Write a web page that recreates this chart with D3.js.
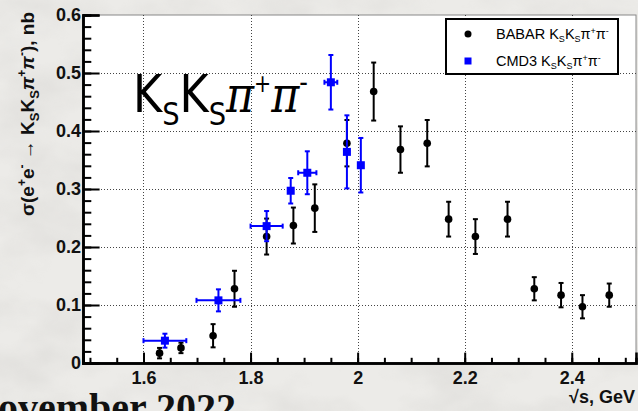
<!DOCTYPE html>
<html>
<head>
<meta charset="utf-8">
<script src="https://cdn.jsdelivr.net/npm/d3@7"></script>
<style>
  html, body { margin: 0; padding: 0; background: #e9e7e4; }
  svg { display: block; }
</style>
</head>
<body>
<div id="chart"></div>
<script>
// BABAR e+e- -> KsKs pi+pi- cross section (nb) vs sqrt(s) (GeV)
const babarX   = [1.63, 1.67, 1.73, 1.77, 1.83, 1.88, 1.92, 1.98, 2.03, 2.08, 2.13, 2.17, 2.22, 2.28, 2.33, 2.38, 2.42, 2.47];
const babarY   = [0.017, 0.026, 0.047, 0.128, 0.218, 0.237, 0.267, 0.379, 0.468, 0.368, 0.379, 0.248, 0.218, 0.248, 0.128, 0.117, 0.097, 0.117];
const babarErr = [0.009, 0.009, 0.020, 0.031, 0.031, 0.031, 0.041, 0.040, 0.050, 0.040, 0.040, 0.030, 0.030, 0.030, 0.020, 0.021, 0.020, 0.020];

// CMD3 measurement, with energy-bin half widths
const cmdX    = [1.640, 1.740, 1.830, 1.875, 1.906, 1.950, 1.980, 2.006];
const cmdXErr = [0.040, 0.041, 0.030, 0.005, 0.017, 0.012, 0.005, 0.005];
const cmdY    = [0.0385, 0.108, 0.236, 0.297, 0.328, 0.484, 0.364, 0.341];
const cmdYErr = [0.012, 0.019, 0.026, 0.022, 0.037, 0.047, 0.063, 0.047];

// Axis ticks
const xMajor = [1.6, 1.8, 2.0, 2.2, 2.4];
const xTickLabels = ["1.6", "1.8", "2", "2.2", "2.4"];
const yMajor = [0, 0.1, 0.2, 0.3, 0.4, 0.5, 0.6];
const yTickLabels = ["0", "0.1", "0.2", "0.3", "0.4", "0.5", "0.6"];

const W = 638, H = 411;
const frame = { left: 83, right: 636, top: 15, bottom: 363 };

const svg = d3.select("#chart").append("svg")
  .attr("width", W).attr("height", H);

// grainy slide background
const defs = svg.append("defs");
const f = defs.append("filter").attr("id", "grain").attr("x", 0).attr("y", 0).attr("width", 1).attr("height", 1);
f.append("feTurbulence").attr("type", "fractalNoise").attr("baseFrequency", "0.012 0.02")
  .attr("numOctaves", 4).attr("seed", 7).attr("result", "n");
f.append("feColorMatrix").attr("type", "matrix")
  .attr("values", "0 0 0 0 0.55  0 0 0 0 0.54  0 0 0 0 0.52  1.4 0 0 0 -0.55");
svg.append("rect").attr("width", W).attr("height", H).attr("fill", "#ecebe8");
svg.append("rect").attr("width", W).attr("height", H).attr("filter", "url(#grain)").attr("opacity", 0.4);

// date line of the slide footer
svg.append("text")
  .attr("x", -31).attr("y", 421)
  .attr("font-family", "'Liberation Serif', 'Times New Roman', serif")
  .attr("font-weight", "bold").attr("font-size", 40).attr("fill", "#111")
  .text("November 2022");

const x = d3.scaleLinear().domain([1.487, 2.52]).range([frame.left, frame.right]);
const y = d3.scaleLinear().domain([0, 0.6]).range([frame.bottom, frame.top]);

// plot area
svg.append("rect")
  .attr("x", frame.left).attr("y", frame.top)
  .attr("width", frame.right - frame.left).attr("height", frame.bottom - frame.top)
  .attr("fill", "#fff").attr("stroke", "#888").attr("stroke-width", 1);

// dotted grid
const grid = svg.append("g").attr("stroke", "#444").attr("stroke-width", 1).attr("stroke-dasharray", "1,2");
grid.selectAll("line.gx").data(xMajor).join("line")
  .attr("x1", d => Math.round(x(d)) + 0.5).attr("x2", d => Math.round(x(d)) + 0.5)
  .attr("y1", frame.top).attr("y2", frame.bottom);
grid.selectAll("line.gy").data(yMajor.filter(v => v > 0 && v < 0.6)).join("line")
  .attr("y1", d => Math.round(y(d)) + 0.5).attr("y2", d => Math.round(y(d)) + 0.5)
  .attr("x1", frame.left).attr("x2", frame.right);

// axes (ticks inward, ROOT-like)
const tickFont = "'Liberation Sans', Arial, Helvetica, sans-serif";
const xMinorTicks = d3.range(1.5, 2.5001, 0.05).map(v => +v.toFixed(2));
const yMinorTicks = d3.range(0, 0.6001, 0.02).map(v => +v.toFixed(2));

const gxMinor = svg.append("g").attr("transform", `translate(0,${frame.bottom})`)
  .call(d3.axisBottom(x).tickValues(xMinorTicks).tickSize(-5.2).tickFormat(""));
const gx = svg.append("g").attr("transform", `translate(0,${frame.bottom})`)
  .call(d3.axisBottom(x).tickValues(xMajor).tickSize(-10.4).tickPadding(8)
    .tickFormat((d, i) => xTickLabels[i]));
const gyMinor = svg.append("g").attr("transform", `translate(${frame.left},0)`)
  .call(d3.axisLeft(y).tickValues(yMinorTicks).tickSize(-8.3).tickFormat(""));
const gy = svg.append("g").attr("transform", `translate(${frame.left},0)`)
  .call(d3.axisLeft(y).tickValues(yMajor).tickSize(-16.6).tickPadding(2)
    .tickFormat((d, i) => yTickLabels[i]));

[gxMinor, gx, gyMinor, gy].forEach(g => {
  g.select(".domain").attr("stroke", "#000").attr("stroke-width", 2.5);
  g.selectAll(".tick line").attr("stroke", "#000").attr("stroke-width", 2);
  g.selectAll("text").attr("font-family", tickFont).attr("font-weight", "bold")
    .attr("font-size", 18).attr("fill", "#111");
});

// axis titles
svg.append("text")
  .attr("x", frame.right - 1).attr("y", 403).attr("text-anchor", "end")
  .attr("font-family", tickFont).attr("font-weight", "bold").attr("font-size", 18).attr("fill", "#111")
  .text("\u221As, GeV");

const yt = svg.append("text")
  .attr("transform", "translate(34,114) rotate(-90)")
  .attr("text-anchor", "middle")
  .attr("font-family", tickFont).attr("font-weight", "bold").attr("font-size", 19).attr("fill", "#111");
const supSub = (el, parts) => {
  parts.forEach(p => {
    const t = el.append("tspan").text(p.t);
    if (p.s) t.attr("font-size", p.s);
    if (p.dy) t.attr("dy", p.dy);
    if (p.st) t.attr("font-style", p.st);
    if (p.ff) t.attr("font-family", p.ff);
  });
};
supSub(yt, [
  { t: "\u03C3(e" }, { t: "+", s: 12, dy: -8 }, { t: "e", dy: 8 }, { t: "-", s: 12, dy: -8 },
  { t: " \u2192 K", dy: 8 }, { t: "S", s: 13, dy: 5 }, { t: "K", dy: -5 }, { t: "S", s: 13, dy: 5 },
  { t: "\u03C0", dy: -5, st: "italic" }, { t: "+", s: 12, dy: -8 }, { t: "\u03C0", dy: 8, st: "italic" },
  { t: "-", s: 12, dy: -8 }, { t: "), nb", dy: 8 }
]);

// big process label
const big = svg.append("g");
const piFont = "'DejaVu Serif', 'Liberation Serif', serif";
const bt = big.append("text").attr("x", 0).attr("y", 0)
  .attr("font-family", "'DejaVu Sans', sans-serif").attr("font-size", 52).attr("fill", "#000");
supSub(bt, [
  { t: "K" }, { t: "S", s: 32, dy: 13 }, { t: "K", dy: -13 }, { t: "S", s: 32, dy: 13 },
  { t: "\u03C0", dy: -13, st: "italic", ff: piFont, s: 50 }, { t: "+", s: 24, dy: -20 },
  { t: "\u03C0", dy: 20, st: "italic", ff: piFont, s: 50 },
  { t: "-", s: 28, dy: -20 }
]);
const bb = bt.node().getBBox();
big.attr("transform", `translate(133,112) scale(${175 / bb.width},1)`);

// BABAR points
const babar = babarX.map((v, i) => ({ x: v, y: babarY[i], e: babarErr[i] }));
const gB = svg.append("g").attr("stroke", "#000").attr("stroke-width", 2);
gB.selectAll("line.ev").data(babar).join("line")
  .attr("x1", d => x(d.x)).attr("x2", d => x(d.x))
  .attr("y1", d => y(d.y - d.e)).attr("y2", d => y(d.y + d.e));
gB.selectAll("line.cap1").data(babar).join("line")
  .attr("x1", d => x(d.x) - 2.5).attr("x2", d => x(d.x) + 2.5)
  .attr("y1", d => y(d.y + d.e)).attr("y2", d => y(d.y + d.e));
gB.selectAll("line.cap2").data(babar).join("line")
  .attr("x1", d => x(d.x) - 2.5).attr("x2", d => x(d.x) + 2.5)
  .attr("y1", d => y(d.y - d.e)).attr("y2", d => y(d.y - d.e));
svg.append("g").selectAll("circle").data(babar).join("circle")
  .attr("cx", d => x(d.x)).attr("cy", d => y(d.y)).attr("r", 3.8).attr("fill", "#000");

// CMD3 points
const cmd = cmdX.map((v, i) => ({ x: v, xe: cmdXErr[i], y: cmdY[i], e: cmdYErr[i] }));
const gC = svg.append("g").attr("stroke", "#0000ff").attr("stroke-width", 2);
gC.selectAll("line.ev").data(cmd).join("line")
  .attr("x1", d => x(d.x)).attr("x2", d => x(d.x))
  .attr("y1", d => y(d.y - d.e)).attr("y2", d => y(d.y + d.e));
gC.selectAll("line.eh").data(cmd).join("line")
  .attr("x1", d => x(d.x - d.xe)).attr("x2", d => x(d.x + d.xe))
  .attr("y1", d => y(d.y)).attr("y2", d => y(d.y));
[1, -1].forEach(s => {
  gC.selectAll(null).data(cmd).join("line")
    .attr("x1", d => x(d.x) - 2.5).attr("x2", d => x(d.x) + 2.5)
    .attr("y1", d => y(d.y + s * d.e)).attr("y2", d => y(d.y + s * d.e));
  gC.selectAll(null).data(cmd.filter(d => d.xe > 0.01)).join("line")
    .attr("x1", d => x(d.x + s * d.xe)).attr("x2", d => x(d.x + s * d.xe))
    .attr("y1", d => y(d.y) - 2.5).attr("y2", d => y(d.y) + 2.5);
});
svg.append("g").selectAll("rect").data(cmd).join("rect")
  .attr("x", d => x(d.x) - 4).attr("y", d => y(d.y) - 4)
  .attr("width", 8).attr("height", 8).attr("fill", "#0000ff");

// legend
const leg = svg.append("g");
leg.append("rect").attr("x", 446).attr("y", 19).attr("width", 172).attr("height", 55)
  .attr("fill", "#fff").attr("stroke", "#000").attr("stroke-width", 2);
leg.append("circle").attr("cx", 468).attr("cy", 34).attr("r", 3.5).attr("fill", "#000");
leg.append("rect").attr("x", 464.5).attr("y", 57.5).attr("width", 7).attr("height", 7).attr("fill", "#0000ff");
const legClip = defs.append("clipPath").attr("id", "legclip");
legClip.append("rect").attr("x", 446).attr("y", 19).attr("width", 172).attr("height", 55);
const legLabel = (yy, name) => {
  const t = leg.append("text").attr("x", 496).attr("y", yy).attr("clip-path", "url(#legclip)")
    .attr("font-family", tickFont).attr("font-size", 14.5).attr("fill", "#000");
  supSub(t, [
    { t: name + " K" }, { t: "S", s: 9, dy: 3 }, { t: "K", dy: -3 }, { t: "S", s: 9, dy: 3 },
    { t: "\u03C0", dy: -3 }, { t: "+", s: 9, dy: -5 }, { t: "\u03C0", dy: 5 }, { t: "-", s: 9, dy: -5 }
  ]);
};
legLabel(39, "BABAR");
legLabel(66, "CMD3");
</script>
</body>
</html>
